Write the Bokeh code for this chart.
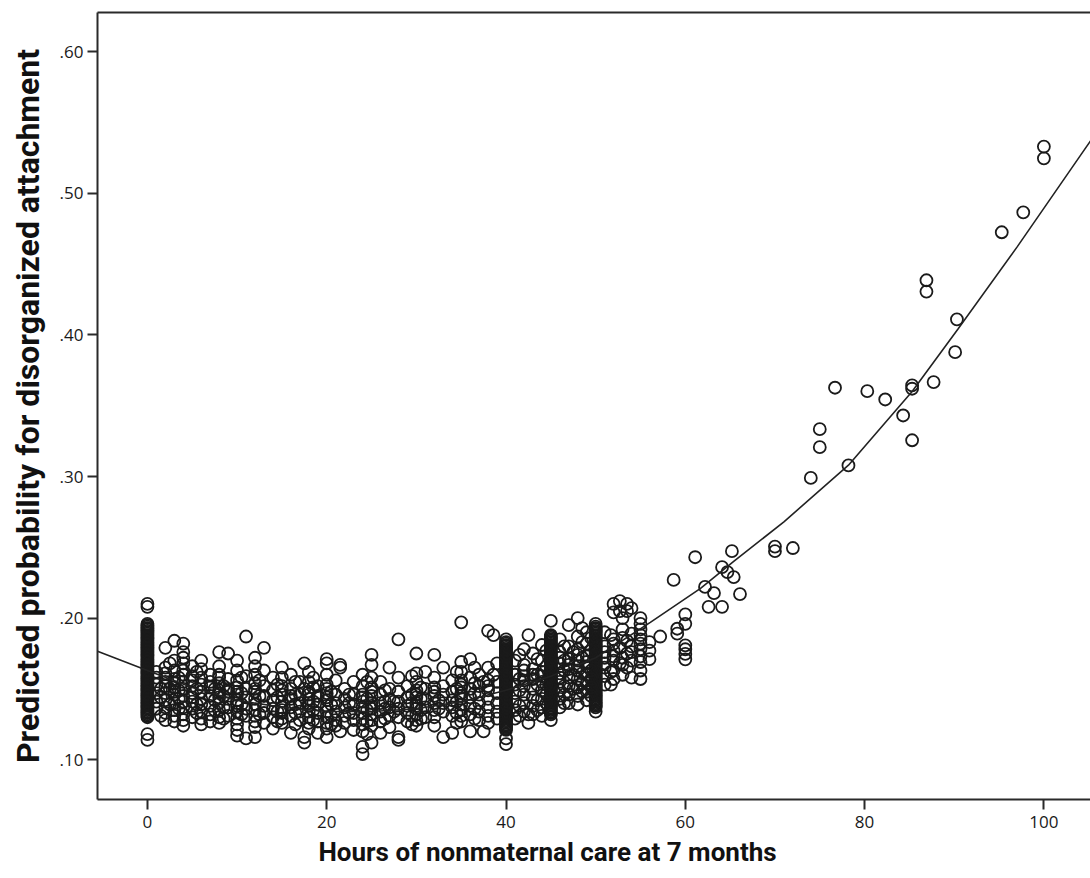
from bokeh.plotting import figure
from bokeh.models import LinearAxis, FixedTicker, Title
from bokeh.embed import file_html
from bokeh.resources import INLINE

# ---------------- data ----------------
x_ticks = [0, 20, 40, 60, 80, 100]
y_ticks = [0.1, 0.2, 0.3, 0.4, 0.5, 0.6]
y_tick_labels = [".10", ".20", ".30", ".40", ".50", ".60"]
x_title = "Hours of nonmaternal care at 7 months"
y_title = "Predicted probability for disorganized attachment"

# dense vertical column at 0 hours
col0_probs = [0.130, 0.131, 0.132, 0.133, 0.134, 0.135, 0.136, 0.137, 0.138, 0.139,
              0.140, 0.141, 0.142, 0.143, 0.144, 0.145, 0.146, 0.147, 0.148, 0.149,
              0.150, 0.151, 0.152, 0.153, 0.154, 0.155, 0.156, 0.157, 0.158, 0.159,
              0.160, 0.161, 0.162, 0.163, 0.164, 0.165, 0.166, 0.167, 0.168, 0.169,
              0.170, 0.171, 0.172, 0.173, 0.174, 0.175, 0.176, 0.177, 0.178, 0.179,
              0.180, 0.181, 0.182, 0.183, 0.184, 0.185, 0.186, 0.187, 0.188, 0.189,
              0.190, 0.191, 0.192, 0.193, 0.194, 0.195, 0.196,
              0.210, 0.208, 0.118, 0.114]
# dense vertical column at 40 hours
col40_probs = [0.121, 0.122, 0.123, 0.124, 0.125, 0.126, 0.127, 0.128, 0.129, 0.130,
               0.131, 0.132, 0.133, 0.134, 0.135, 0.136, 0.137, 0.138, 0.139, 0.140,
               0.141, 0.142, 0.143, 0.144, 0.145, 0.146, 0.147, 0.148, 0.149, 0.150,
               0.151, 0.152, 0.153, 0.154, 0.155, 0.156, 0.157, 0.158, 0.159, 0.160,
               0.161, 0.162, 0.163, 0.164, 0.165, 0.166, 0.167, 0.168, 0.169, 0.170,
               0.171, 0.172, 0.173, 0.174, 0.175, 0.176, 0.177, 0.178, 0.179, 0.180,
               0.181, 0.182, 0.183, 0.185, 0.115, 0.111]
# dense vertical column at 45 hours
col45_probs = [0.132, 0.133, 0.134, 0.135, 0.136, 0.137, 0.138, 0.139, 0.140, 0.141,
               0.142, 0.143, 0.144, 0.145, 0.146, 0.147, 0.148, 0.149, 0.150, 0.151,
               0.152, 0.153, 0.154, 0.155, 0.156, 0.157, 0.158, 0.159, 0.160, 0.161,
               0.162, 0.163, 0.164, 0.165, 0.166, 0.167, 0.168, 0.169, 0.170, 0.171,
               0.172, 0.173, 0.174, 0.175, 0.176, 0.177, 0.178, 0.179, 0.180, 0.181,
               0.182, 0.183, 0.184, 0.185, 0.186, 0.187, 0.188, 0.198, 0.128]
# dense vertical column at 50 hours
col50_probs = [0.138, 0.139, 0.140, 0.141, 0.142, 0.143, 0.144, 0.145, 0.146, 0.147,
               0.148, 0.149, 0.150, 0.151, 0.152, 0.153, 0.154, 0.155, 0.156, 0.157,
               0.158, 0.159, 0.160, 0.161, 0.162, 0.163, 0.164, 0.165, 0.166, 0.167,
               0.168, 0.169, 0.170, 0.171, 0.172, 0.173, 0.174, 0.175, 0.176, 0.177,
               0.178, 0.179, 0.180, 0.181, 0.182, 0.183, 0.184, 0.185, 0.186, 0.187,
               0.188, 0.189, 0.190, 0.191, 0.192, 0.193, 0.194, 0.196, 0.134, 0.137]

# scattered cloud, hours 1-19
band1_hours = [1, 1.5, 2, 2.5, 3, 4, 5, 6, 7, 7.5, 8, 9, 10, 11, 12, 12.5, 13, 14,
               15, 16, 17, 17.5, 18, 19,
               3.5, 5.5, 8.5, 10.5, 14.5, 16.5, 18.5]
band1_probs = [
    [0.147, 0.153, 0.141, 0.158, 0.136, 0.162],
    [0.150, 0.144, 0.131],
    [0.179, 0.165, 0.158, 0.152, 0.147, 0.142, 0.137, 0.133, 0.128, 0.155, 0.161],
    [0.150, 0.139, 0.168],
    [0.184, 0.170, 0.163, 0.157, 0.151, 0.146, 0.140, 0.135, 0.131, 0.127, 0.154, 0.148],
    [0.182, 0.176, 0.168, 0.160, 0.155, 0.150, 0.145, 0.141, 0.137, 0.132, 0.128, 0.124, 0.163, 0.172],
    [0.166, 0.159, 0.152, 0.147, 0.141, 0.136, 0.130, 0.156, 0.144],
    [0.170, 0.164, 0.158, 0.153, 0.148, 0.143, 0.139, 0.134, 0.129, 0.125],
    [0.160, 0.151, 0.145, 0.138, 0.132, 0.127, 0.155],
    [0.142, 0.135, 0.150],
    [0.176, 0.166, 0.160, 0.154, 0.149, 0.144, 0.140, 0.135, 0.130, 0.126, 0.158, 0.147],
    [0.175, 0.157, 0.150, 0.143, 0.137, 0.131, 0.148],
    [0.170, 0.163, 0.156, 0.151, 0.146, 0.142, 0.138, 0.134, 0.129, 0.125, 0.121, 0.117, 0.148, 0.140],
    [0.187, 0.159, 0.150, 0.144, 0.136, 0.115, 0.131],
    [0.172, 0.166, 0.160, 0.154, 0.148, 0.143, 0.139, 0.135, 0.131, 0.127, 0.123, 0.116, 0.150],
    [0.145, 0.132, 0.156],
    [0.179, 0.163, 0.152, 0.145, 0.138, 0.126, 0.133],
    [0.158, 0.149, 0.142, 0.136, 0.130, 0.122],
    [0.165, 0.158, 0.152, 0.146, 0.141, 0.137, 0.133, 0.129, 0.126, 0.149, 0.135],
    [0.160, 0.150, 0.143, 0.137, 0.131, 0.119, 0.145],
    [0.155, 0.146, 0.140, 0.134, 0.128],
    [0.168, 0.150, 0.116, 0.112],
    [0.162, 0.155, 0.148, 0.143, 0.138, 0.134, 0.130, 0.126, 0.122, 0.146, 0.140],
    [0.152, 0.145, 0.139, 0.133, 0.127, 0.119],
    [0.158, 0.149, 0.143, 0.136],
    [0.162, 0.150, 0.139, 0.133],
    [0.152, 0.145, 0.137, 0.129],
    [0.158, 0.147, 0.139, 0.132],
    [0.153, 0.144, 0.134, 0.127],
    [0.155, 0.146, 0.139, 0.133, 0.125],
    [0.158, 0.151, 0.141, 0.135, 0.128],
]

# scattered cloud, hours 20-39
band2_hours = [20, 21, 21.5, 22, 22.5, 23, 24, 25, 26, 27, 27.5, 28, 29, 30, 31, 32,
               32.5, 33, 34, 35, 36, 37, 37.5, 38, 38.6, 39,
               20.5, 24.5, 26.5, 29.5, 30.5, 34.5, 36.5]
band2_probs = [
    [0.171, 0.168, 0.160, 0.153, 0.147, 0.142, 0.138, 0.134, 0.130, 0.126, 0.122, 0.116, 0.150, 0.144],
    [0.156, 0.146, 0.140, 0.134, 0.128, 0.124],
    [0.167, 0.165, 0.120],
    [0.150, 0.143, 0.137, 0.131, 0.126],
    [0.140, 0.133, 0.146],
    [0.155, 0.146, 0.139, 0.133, 0.121, 0.128],
    [0.160, 0.152, 0.146, 0.141, 0.137, 0.133, 0.129, 0.125, 0.120, 0.109, 0.104, 0.144],
    [0.174, 0.167, 0.158, 0.151, 0.145, 0.140, 0.136, 0.132, 0.128, 0.124, 0.112, 0.148, 0.138],
    [0.155, 0.146, 0.140, 0.134, 0.127, 0.119],
    [0.165, 0.150, 0.143, 0.137, 0.131, 0.123],
    [0.141, 0.134],
    [0.185, 0.158, 0.148, 0.141, 0.136, 0.130, 0.116, 0.114],
    [0.152, 0.144, 0.138, 0.133, 0.127],
    [0.175, 0.161, 0.155, 0.149, 0.144, 0.140, 0.136, 0.132, 0.128, 0.124, 0.146, 0.138],
    [0.162, 0.150, 0.143, 0.137, 0.130],
    [0.174, 0.158, 0.151, 0.145, 0.140, 0.135, 0.130, 0.124, 0.148],
    [0.142, 0.136],
    [0.165, 0.152, 0.146, 0.140, 0.134, 0.116],
    [0.156, 0.148, 0.142, 0.137, 0.131, 0.119],
    [0.197, 0.169, 0.162, 0.156, 0.151, 0.147, 0.143, 0.139, 0.135, 0.131, 0.127, 0.153, 0.145],
    [0.171, 0.158, 0.150, 0.144, 0.138, 0.132, 0.120],
    [0.160, 0.152, 0.146, 0.140, 0.134, 0.128],
    [0.120, 0.155],
    [0.191, 0.165, 0.156, 0.149, 0.143, 0.137, 0.131, 0.126, 0.152],
    [0.188, 0.160],
    [0.168, 0.155, 0.147, 0.140, 0.134, 0.129],
    [0.148, 0.139, 0.131, 0.125],
    [0.155, 0.143, 0.135, 0.127, 0.118],
    [0.149, 0.141, 0.136, 0.129],
    [0.159, 0.146, 0.140, 0.131, 0.125],
    [0.151, 0.143, 0.135, 0.129],
    [0.162, 0.150, 0.141, 0.133, 0.126],
    [0.165, 0.154, 0.147, 0.136, 0.129],
]

# scattered cloud, hours 41-57
band3_hours = [41, 42, 42.5, 43, 44, 46, 47, 47.5, 48, 49, 51, 51.7, 52, 52.7, 53.5,
               54, 55, 56, 57.2,
               41.5, 43.5, 44.5, 46.5, 48.5, 49.5, 53]
band3_probs = [
    [0.170, 0.160, 0.153, 0.147, 0.141, 0.135, 0.129],
    [0.178, 0.167, 0.159, 0.152, 0.146, 0.140, 0.134, 0.156, 0.163],
    [0.188, 0.126, 0.132],
    [0.175, 0.164, 0.157, 0.150, 0.144, 0.138, 0.132, 0.160],
    [0.181, 0.170, 0.162, 0.155, 0.149, 0.143, 0.137, 0.131, 0.159],
    [0.185, 0.176, 0.168, 0.161, 0.155, 0.149, 0.143, 0.137, 0.172, 0.158],
    [0.195, 0.180, 0.171, 0.164, 0.158, 0.152, 0.146, 0.140, 0.167],
    [0.176, 0.150, 0.160],
    [0.200, 0.187, 0.178, 0.170, 0.163, 0.157, 0.151, 0.145, 0.139, 0.174, 0.166],
    [0.190, 0.182, 0.173, 0.166, 0.160, 0.154, 0.148, 0.142, 0.169],
    [0.190, 0.180, 0.172, 0.165, 0.159, 0.153, 0.176, 0.168],
    [0.188, 0.153, 0.162],
    [0.210, 0.204, 0.185, 0.177, 0.170, 0.163, 0.157, 0.173, 0.182],
    [0.212, 0.205, 0.179, 0.168],
    [0.210, 0.205, 0.184, 0.175, 0.165],
    [0.207, 0.189, 0.180, 0.170, 0.158, 0.176],
    [0.200, 0.196, 0.192, 0.188, 0.185, 0.182, 0.178, 0.173, 0.169, 0.163, 0.157],
    [0.183, 0.177, 0.171],
    [0.187],
    [0.174, 0.157, 0.149, 0.138, 0.131],
    [0.171, 0.160, 0.153, 0.142, 0.135],
    [0.177, 0.166, 0.153, 0.146, 0.140],
    [0.180, 0.170, 0.163, 0.152, 0.146, 0.140],
    [0.193, 0.183, 0.172, 0.161, 0.154, 0.148],
    [0.186, 0.177, 0.163, 0.157, 0.151, 0.145],
    [0.200, 0.192, 0.186, 0.172, 0.167, 0.160],
]

# sparse points above 58 hours
sparse_hours = [58.7, 59.1, 59.1, 60, 60, 60, 60, 60, 60, 61.1, 62.2, 62.6, 63.2, 64.1,
                64.1, 64.7, 65.2, 65.4, 66.1, 70, 70, 72, 74, 75, 75, 76.7, 78.2, 80.3,
                82.3, 84.3, 85.3, 85.3, 85.3, 86.9, 86.9, 87.7, 90.1, 90.3, 95.3, 97.7,
                100, 100]
sparse_probs = [0.227, 0.1925, 0.189, 0.2026, 0.196, 0.1808, 0.178, 0.1747, 0.1709, 0.243,
                0.222, 0.208, 0.2177, 0.236, 0.208, 0.2325, 0.2473, 0.229, 0.217, 0.2505,
                0.2473, 0.2495, 0.299, 0.3334, 0.3207, 0.3627, 0.3078, 0.3603, 0.3544,
                0.3431, 0.3643, 0.362, 0.3256, 0.4386, 0.4306, 0.3667, 0.3878, 0.411,
                0.4725, 0.4866, 0.533, 0.5247]

# fitted curve, points
fit_hours = [-5.57, 0, 5, 10, 15, 20, 25, 30, 35, 40, 45, 50, 56.1, 61.7, 65.4, 71,
             78.2, 85.3, 90.4, 97, 104.1, 105.2]
fit_probs = [0.1766, 0.163, 0.151, 0.142, 0.137, 0.134, 0.134, 0.136, 0.141, 0.149,
             0.159, 0.172, 0.197, 0.221, 0.240, 0.268, 0.308, 0.360, 0.404, 0.462,
             0.527, 0.537]

# ---------------- assemble point table ----------------
xs, ys = [], []
for h, col in [(0, col0_probs), (40, col40_probs), (45, col45_probs), (50, col50_probs)]:
    xs += [h] * len(col)
    ys += col
for hours, probs in [(band1_hours, band1_probs), (band2_hours, band2_probs),
                     (band3_hours, band3_probs)]:
    for h, col in zip(hours, probs):
        xs += [h] * len(col)
        ys += col
xs += sparse_hours
ys += sparse_probs

# ---------------- figure ----------------
p = figure(width=1090, height=878, x_range=(-5.57, 105.2), y_range=(0.0719, 0.6277),
           output_backend="svg", toolbar_location=None,
           min_border_left=97, min_border_right=0, min_border_top=12, min_border_bottom=79)
p.outline_line_color = None
p.xgrid.visible = False
p.ygrid.visible = False
p.background_fill_color = "white"
p.border_fill_color = "white"

p.scatter(xs, ys, marker="circle", size=12, fill_color=None,
          line_color="#1a1a1a", line_width=1.8)
p.line(fit_hours, fit_probs, line_color="#222222", line_width=1.6)

ink = "#2a2a2a"
for ax in (p.xaxis[0], p.yaxis[0]):
    ax.axis_line_width = 2
    ax.axis_line_color = ink
    ax.major_tick_line_width = 2
    ax.major_tick_line_color = ink
    ax.major_tick_in = 0
    ax.major_tick_out = 10
    ax.minor_tick_line_color = None
    ax.major_label_text_font = "Open Sans"
    ax.major_label_text_font_size = "17px"
    ax.major_label_text_color = "#1a1a1a"
    ax.axis_label_text_font = "Roboto"
    ax.axis_label_text_font_style = "bold"
    ax.axis_label_text_color = "#111111"

p.xaxis[0].ticker = FixedTicker(ticks=x_ticks)
p.yaxis[0].ticker = FixedTicker(ticks=y_ticks)
p.yaxis[0].major_label_overrides = dict(zip(y_ticks, y_tick_labels))
p.xaxis[0].major_label_standoff = 6
p.yaxis[0].major_label_standoff = 4

p.yaxis[0].axis_label = y_title
p.yaxis[0].axis_label_text_font_size = "32px"
p.yaxis[0].axis_label_standoff = 10

# x-axis title, centred left of the frame centre as in the (right-cropped) original
p.add_layout(Title(text=x_title, align="left", offset=221, standoff=8,
                   text_font="Roboto", text_font_style="bold",
                   text_font_size="26px", text_color="#111111"), "below")

top = LinearAxis(ticker=FixedTicker(ticks=[]), axis_line_width=2, axis_line_color=ink,
                 major_tick_line_color=None, minor_tick_line_color=None,
                 major_label_text_font_size="0px", major_label_standoff=0)
p.add_layout(top, "above")

open("out.html", "w").write(file_html(p, INLINE))
